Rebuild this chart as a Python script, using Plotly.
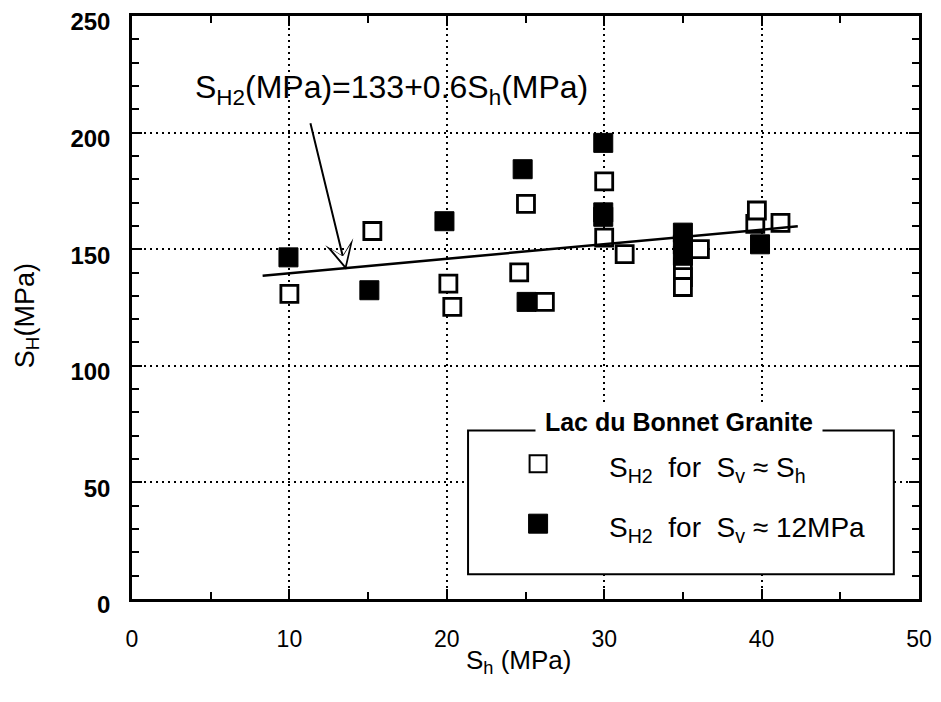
import plotly.graph_objects as go

# ---- data ----
open_x = [10.0, 15.27, 20.1, 20.35, 24.6, 25.03, 26.23, 30.0, 30.0, 31.3,
          35.0, 35.0, 35.0, 36.08, 39.6, 39.7, 41.2]
open_y = [130.8, 157.8, 135.2, 125.3, 140.1, 169.4, 127.4, 179.1, 155.0, 147.9,
          142.2, 138.0, 133.8, 150.0, 160.9, 166.6, 161.3]
filled_x = [9.94, 15.08, 19.85, 24.82, 25.07, 29.94, 29.94, 29.94,
            35.0, 35.0, 35.0, 39.9]
filled_y = [146.5, 132.4, 162.0, 184.3, 127.4, 195.6, 165.8, 163.9,
            157.1, 152.0, 147.2, 152.1]
fit_x = [8.3, 42.3]
fit_y = [138.6, 159.8]

x_ticks = [0, 10, 20, 30, 40, 50]
y_ticks = [0, 50, 100, 150, 200, 250]

FONT = "Liberation Sans, Arial, sans-serif"

fig = go.Figure()

fig.add_trace(go.Scatter(
    x=open_x, y=open_y, mode="markers",
    marker=dict(symbol="square", size=17, color="white",
                line=dict(color="black", width=2.8)),
    showlegend=False, hoverinfo="skip"))

fig.add_trace(go.Scatter(
    x=fit_x, y=fit_y, mode="lines",
    line=dict(color="black", width=2.5),
    showlegend=False, hoverinfo="skip"))

fig.add_trace(go.Scatter(
    x=filled_x, y=filled_y, mode="markers",
    marker=dict(symbol="square", size=19, color="black",
                line=dict(color="black", width=1)),
    showlegend=False, hoverinfo="skip"))

# ---- legend drawn by hand (box with title in the border) ----
leg_x0, leg_x1, leg_y0, leg_y1 = 21.35, 48.4, 10.6, 72.3
fig.add_shape(type="rect", xref="x", yref="y",
              x0=leg_x0, x1=leg_x1, y0=leg_y0, y1=leg_y1,
              line=dict(color="black", width=2), fillcolor="white", layer="between")

fig.add_trace(go.Scatter(
    x=[25.8], y=[58.0], mode="markers",
    marker=dict(symbol="square", size=17, color="white",
                line=dict(color="black", width=2)),
    showlegend=False, hoverinfo="skip"))
fig.add_trace(go.Scatter(
    x=[25.8], y=[32.3], mode="markers",
    marker=dict(symbol="square", size=19, color="black",
                line=dict(color="black", width=1)),
    showlegend=False, hoverinfo="skip"))

annotations = [
    dict(x=34.75, y=75.9, xref="x", yref="y",
         text="&nbsp;Lac du Bonnet Granite&nbsp;",
         showarrow=False, font=dict(family=FONT, size=25, color="black", weight="bold"),
         bgcolor="white", borderpad=2, yanchor="middle"),
    dict(x=30.2, y=58.0, xref="x", yref="y", xanchor="left",
         text="S<sub>H2</sub>  for  S<sub>v</sub> \u2248 S<sub>h</sub>",
         showarrow=False, font=dict(family=FONT, size=28, color="black"), yshift=-6),
    dict(x=30.2, y=32.3, xref="x", yref="y", xanchor="left",
         text="S<sub>H2</sub>  for  S<sub>v</sub> \u2248 12MPa",
         showarrow=False, font=dict(family=FONT, size=28, color="black"), yshift=-6),
    # equation label
    dict(x=16.5, y=218.5, xref="x", yref="y",
         text="S<sub>H2</sub>(MPa)=133+0.6S<sub>h</sub>(MPa)",
         showarrow=False, font=dict(family=FONT, size=32, color="black")),
    # arrow (black barbed head + white inner head to make it hollow)
    dict(x=13.6, y=141.2, xref="x", yref="y", ax=-36, ay=-148,
         text="", showarrow=True, arrowhead=3, arrowsize=2.4, arrowwidth=2,
         arrowcolor="black"),
    dict(x=13.6, y=141.2, xref="x", yref="y", ax=-3.2, ay=-13.5,
         text="", showarrow=True, arrowhead=3, arrowsize=3.2, arrowwidth=1,
         arrowcolor="white", standoff=4),
    # axis titles
    dict(x=-0.1334, y=0.485, xref="paper", yref="paper", textangle=-90,
         text="S<sub>H</sub>(MPa)", showarrow=False,
         font=dict(family=FONT, size=27, color="black"),
         xanchor="center", yanchor="middle"),
    dict(x=0.4917, y=-0.108, xref="paper", yref="paper",
         text="S<sub>h</sub> (MPa)", showarrow=False,
         font=dict(family=FONT, size=26, color="black"),
         xanchor="center", yanchor="middle"),
]

axis_common = dict(
    showline=True, linecolor="black", linewidth=2.5, mirror="allticks",
    ticks="inside", ticklen=10, tickwidth=1.5, tickcolor="black",
    showgrid=True, gridcolor="black", gridwidth=1.5, griddash="2px,4px",
    zeroline=False, automargin=False, ticklabeloverflow="allow",
)

# page has an 8px body margin, so the figure is 16px smaller than the window
fig.update_layout(
    width=925, height=686, autosize=False,
    margin=dict(l=124, r=14, t=8, b=95),
    paper_bgcolor="white", plot_bgcolor="white",
    font=dict(family=FONT, color="black"),
    annotations=annotations,
    xaxis=dict(
        range=[0, 50], tickvals=x_ticks, ticktext=[str(v) for v in x_ticks],
        tickfont=dict(family=FONT, size=23, color="black"),
        ticklabelstandoff=18,
        minor=dict(dtick=5, ticks="inside", ticklen=7, tickcolor="black",
                   tickwidth=1.5, showgrid=False),
        **axis_common),
    yaxis=dict(
        range=[0, 250], tickvals=y_ticks, ticktext=[str(v) for v in y_ticks],
        tickfont=dict(family=FONT, size=24, color="black", weight="bold"),
        ticklabelstandoff=14, ticklabelshift=6,
        minor=dict(dtick=10, ticks="inside", ticklen=7, tickcolor="black",
                   tickwidth=1.5, showgrid=False),
        **axis_common),
)

fig.write_html("out.html")
